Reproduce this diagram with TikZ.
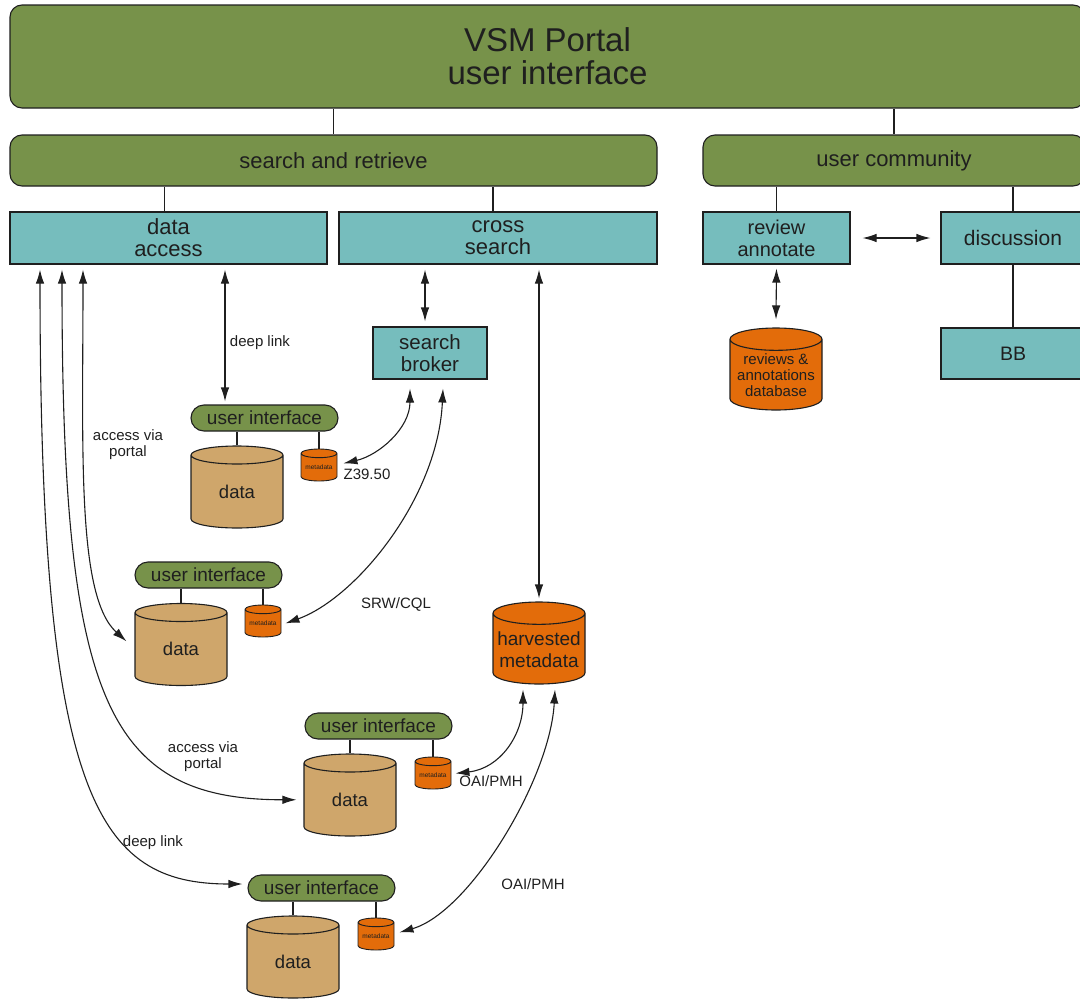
\documentclass[tikz,border=0pt]{standalone}
\usepackage{fontspec}
\setmainfont{Liberation Sans}
\usepackage{tikz}
\usetikzlibrary{arrows.meta,shapes.geometric}

\definecolor{portalgreen}{HTML}{77924A}
\definecolor{unitteal}{HTML}{76BDBD}
\definecolor{datatan}{HTML}{CFA66B}
\definecolor{metaorange}{HTML}{E36C0A}
\definecolor{inkgray}{HTML}{1F1F1F}

\begin{document}
\begin{tikzpicture}[
    x=1pt,   % 1px = 1pt
    y=-1pt,  % y軸は下向き
    greenbox/.style={draw=inkgray, fill=portalgreen, rounded corners=12pt, line width=1.1pt,
      inner sep=0pt, text=inkgray, align=center},
    uipill/.style={draw=inkgray, fill=portalgreen, rounded corners=13pt, line width=1.1pt,
      inner sep=0pt, minimum width=147pt, minimum height=26pt, text=inkgray,
      font=\fontsize{19}{21}\selectfont},
    unitbox/.style={draw=inkgray, fill=unitteal, line width=1.1pt, inner sep=0pt,
      minimum height=52pt, text=inkgray, align=center},
    datacyl/.style={cylinder, shape border rotate=90, aspect=0.5, anchor=shape center,
      draw=inkgray, fill=datatan, line width=1.1pt, inner sep=0pt,
      minimum width=92pt, minimum height=82pt, text=inkgray,
      font=\fontsize{18.5}{20}\selectfont},
    metacyl/.style={cylinder, shape border rotate=90, aspect=0.32, anchor=shape center,
      draw=inkgray, fill=metaorange, line width=0.9pt, inner sep=0pt,
      minimum width=36pt, minimum height=32pt, text=inkgray,
      font=\fontsize{6.5}{7}\selectfont},
    cyltext/.style={text=inkgray, align=center, inner sep=0pt},
    link/.style={draw=inkgray, line width=1.1pt},
    dbl/.style={draw=inkgray, line width=1.1pt,
      {Latex[length=14pt,width=8.5pt]}-{Latex[length=14pt,width=8.5pt]}},
    lbl/.style={text=inkgray, align=center, font=\fontsize{15}{16}\selectfont}
  ]
  \useasboundingbox (0,0) rectangle (1080,999);
  \clip (0,0) rectangle (1080,999);

  % ポータル
  \node[greenbox, minimum width=1075pt, minimum height=103pt,
    font=\fontsize{33}{33}\selectfont] (portal) at (547.5,56.5) {VSM Portal\\user interface};

  % 第2段
  \node[greenbox, minimum width=647pt, minimum height=51pt,
    font=\fontsize{22}{24}\selectfont] (search) at (333.5,160.5) {search and retrieve};
  \node[greenbox, minimum width=382pt, minimum height=51pt,
    font=\fontsize{22}{24}\selectfont] (community) at (894,160.5) {user community};

  % 第3段
  \node[unitbox, minimum width=317pt, font=\fontsize{22}{22}\selectfont] (access) at (168.5,238) {data\\access};
  \node[unitbox, minimum width=318pt, font=\fontsize{22}{22}\selectfont] (cross) at (498,238) {cross\\search};
  \node[unitbox, minimum width=147pt, font=\fontsize{20}{22}\selectfont] (review) at (776.5,238) {review\\annotate};
  \node[unitbox, minimum width=144pt, font=\fontsize{21}{22}\selectfont] (discussion) at (1013,238) {discussion};

  \node[unitbox, minimum width=114pt, font=\fontsize{20.5}{22}\selectfont] (broker) at (430,353) {search\\broker};
  \node[unitbox, minimum width=144pt, minimum height=51pt, font=\fontsize{19.5}{21}\selectfont] (bb) at (1013,353.5) {BB};

  \node[datacyl, aspect=0.62, fill=metaorange] (revdb) at (776,369) {\phantom{data}};
  \node[cyltext, font=\fontsize{15}{16}\selectfont] (revdbtext) at (776,375) {reviews \&\\annotations\\database};
  \node[datacyl, aspect=0.62, fill=metaorange] (harvested) at (539,643) {\phantom{data}};
  \node[cyltext, font=\fontsize{19}{22}\selectfont] (harvtext) at (539,650) {harvested\\metadata};

  % 各データ提供元
  \node[uipill] (ui1) at (264.5,418) {user interface};
  \node[datacyl] (data1) at (237,487) {data};
  \node[metacyl] (meta1) at (319,465) {metadata};

  \node[uipill] (ui2) at (208.5,575) {user interface};
  \node[datacyl] (data2) at (181,644.5) {data};
  \node[metacyl] (meta2) at (263,621) {metadata};

  \node[uipill] (ui3) at (378.5,726) {user interface};
  \node[datacyl] (data3) at (350,795) {data};
  \node[metacyl] (meta3) at (433,773) {metadata};

  \node[uipill] (ui4) at (321.5,888) {user interface};
  \node[datacyl] (data4) at (293,957) {data};
  \node[metacyl] (meta4) at (376,934) {metadata};

  % 縦の接続線
  \draw[link] (search.north) -- (search.north |- portal.south);
  \draw[link] (community.north) -- (community.north |- portal.south);
  \draw[link] ([xshift=-4pt]access.north) -- ([xshift=-4pt]access.north |- search.south);
  \draw[link] ([xshift=-5pt]cross.north) -- ([xshift=-5pt]cross.north |- search.south);
  \draw[link] (review.north) -- (review.north |- community.south);
  \draw[link] (discussion.north) -- (discussion.north |- community.south);
  \draw[link] (discussion.south) -- (bb.north);
  \draw[link] (data1.north) -- (data1.north |- ui1.south);
  \draw[link] (meta1.north) -- (meta1.north |- ui1.south);
  \draw[link] (data2.north) -- (data2.north |- ui2.south);
  \draw[link] (meta2.north) -- (meta2.north |- ui2.south);
  \draw[link] (data3.north) -- (data3.north |- ui3.south);
  \draw[link] (meta3.north) -- (meta3.north |- ui3.south);
  \draw[link] (data4.north) -- (data4.north |- ui4.south);
  \draw[link] (meta4.north) -- (meta4.north |- ui4.south);

  % 双方向の矢印
  \coordinate (dlx) at (225,0);
  \coordinate (brx) at (425,0);
  \draw[dbl] ([xshift=12pt]review.east) -- ([xshift=-10pt]discussion.west);
  \draw[dbl] ([yshift=-4pt]review.south) -- ([yshift=8pt]revdb.north);
  \draw[dbl] ([yshift=-5pt]dlx |- access.south) -- ([yshift=3pt]dlx |- ui1.north);
  \draw[dbl] ([yshift=-5pt]brx |- cross.south) -- ([yshift=5pt]brx |- broker.north);
  \draw[dbl] ([yshift=-5pt]harvested.north |- cross.south) -- ([yshift=3pt]harvested.north);

  % プロトコルの曲線
  \draw[dbl] ([xshift=6pt,yshift=4pt]meta1.east) .. controls +(35,-8) and +(0,40) .. ([xshift=-20pt,yshift=-9pt]broker.south);
  \draw[dbl] ([xshift=13pt,yshift=-9pt]broker.south) .. controls +(-5,110) and +(70,-25) .. ([xshift=4pt]meta2.east);
  \draw[dbl] ([xshift=4pt,yshift=2pt]meta3.east) .. controls +(45,-5) and +(0,45) .. ([xshift=-16pt,yshift=-5pt]harvested.south);
  \draw[dbl] ([xshift=5pt,yshift=4pt]meta4.east) .. controls +(70,-20) and +(-5,90) .. ([xshift=16pt,yshift=-5pt]harvested.south);

  % ポータル経由の曲線
  \coordinate (pa) at (83,0);
  \coordinate (pb) at (62,0);
  \coordinate (pc) at (40,0);
  \draw[dbl] ([yshift=-5pt]pa |- access.south) .. controls +(0,180) and +(-50,-45) .. ([xshift=-8pt,yshift=8pt]data2.west);
  \draw[dbl] ([yshift=-5pt]pb |- access.south) .. controls +(0,430) and +(-190,0) .. ([xshift=-7pt]data3.west);
  \draw[dbl] ([yshift=-5pt]pc |- access.south) .. controls +(0,530) and +(-145,0) .. ([xshift=-5pt,yshift=4pt]ui4.west);

  % ラベル
  \node[lbl] (lbldeep1) at (260,343) {deep link};
  \node[lbl] (lblportal1) at (128,445) {access via\\portal};
  \node[lbl] (lblportal2) at (203,757) {access via\\portal};
  \node[lbl] (lbldeep2) at (153,843) {deep link};
  \node[lbl] (lblz) at (367,474) {Z39.50};
  \node[lbl] (lblsrw) at (396,604) {SRW/CQL};
  \node[lbl] (lbloai1) at (491,781) {OAI/PMH};
  \node[lbl] (lbloai2) at (533,884) {OAI/PMH};
\end{tikzpicture}
\end{document}
